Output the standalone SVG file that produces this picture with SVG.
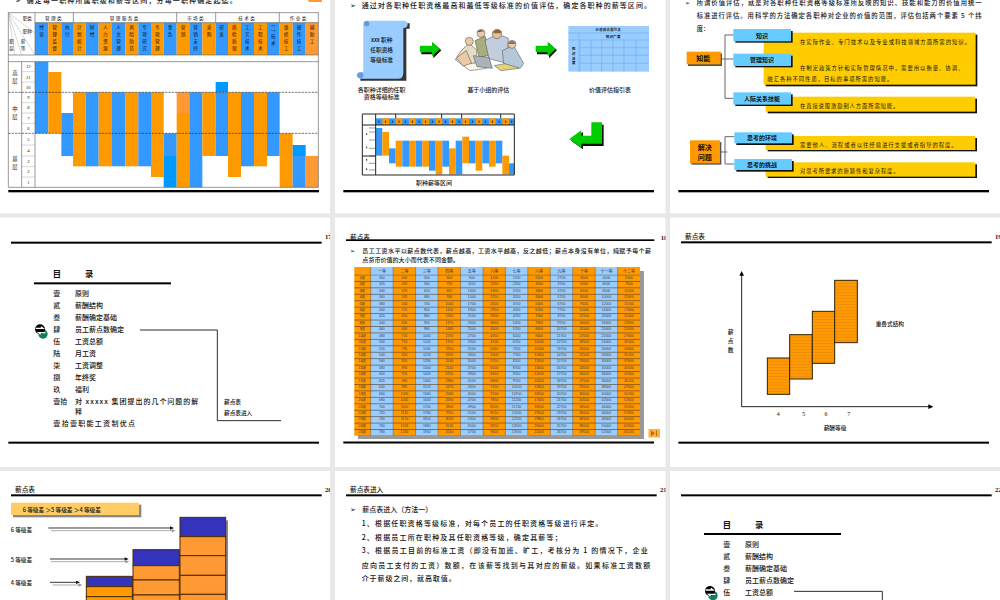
<svg xmlns="http://www.w3.org/2000/svg" width="1000" height="600" viewBox="0 0 1000 600">
<style>
text{font-family:"Noto Sans CJK SC","Liberation Sans",sans-serif;fill:#111;dominant-baseline:central}
.b{font-size:21px;font-weight:500}
.m{font-size:17px;font-weight:500}
.s{font-size:14px}
.cap{font-size:18px;font-weight:500;text-anchor:middle}
.h{font-size:21px;font-weight:700}
.num{font-size:20px;font-family:"Liberation Serif",serif;font-weight:700}
.c{text-anchor:middle}
.v{font-size:14px;writing-mode:vertical-rl;letter-spacing:7px}
.lv{font-size:16px;writing-mode:vertical-rl;letter-spacing:8px}
.gr{font-size:14px;text-anchor:middle;font-family:"Liberation Serif",serif}
.nc{font-size:3.5px;text-anchor:middle;font-family:"Liberation Sans",sans-serif;fill:#444}
.hc{font-size:4px;text-anchor:middle;fill:#333}
.o{fill:#ff9900}
.o2{fill:#ff9933}
.u{fill:#3399ff}
.u2{fill:#0099ff}
.rule{fill:#000}
.lk{fill:none;stroke:#000;stroke-width:2.5}
.gl{fill:none;stroke:#666;stroke-width:3}
.fr{fill:none;stroke:#666;stroke-width:2}
.tn{stroke:#888;stroke-width:1;fill:none}
.sky{fill:#66ccff}
.yl{fill:#ffcc00}
.sh{fill:#111}
.g{fill:#00cc00}
.cl{stroke:#444;stroke-width:1.5}
.pt{font-size:16px}
</style>
<defs>
<pattern id="rows" patternUnits="userSpaceOnUse" x="0" y="274.5" width="10" height="6.44">
<rect y="0" width="10" height="0.55" fill="#553311"/>
</pattern>
<pattern id="stripe" patternUnits="userSpaceOnUse" width="10" height="9">
<rect width="10" height="9" fill="#ff9900"/>
<rect y="6" width="10" height="2" fill="#e88a10"/>
</pattern>
<g id="mark">
<circle cx="129" cy="372" r="14" fill="#0f7f5f"/>
<circle cx="120" cy="358" r="15" fill="#000"/>
<path d="M107 355h22l-6-5M136 368h-20l6 5" fill="none" stroke="#fff" stroke-width="4"/>
</g>
<g id="arrow">
<path d="M4 14H40V2L64 24 40 48V36H4Z" class="sh"/>
<path d="M0 10H36V-2L60 20 36 42V30H0Z" class="g"/>
</g>
</defs>

<rect width="1000" height="600" fill="#fff"/>

<!-- Page 16: job-family grade ranges -->
<g id="page16" transform="scale(.33333)">
<text class="b" x="45" y="-1">➢</text>
<text class="b" x="80" y="-1" textLength="630" lengthAdjust="spacing">确定每一职种所属职级和薪等区间，分每一职种确定起迄。</text>
<rect class="o2" x="925" y="-4" width="41" height="10"/>
<rect x="25" y="38" width="930" height="524" fill="#fff"/>
<g id="bars16">
<rect class="u" x="105" y="68" width="40" height="97"/><rect class="o" x="145" y="68" width="39" height="97"/><rect class="u" x="184" y="68" width="35" height="97"/>
<rect class="o" x="219" y="68" width="38" height="97"/><rect class="u" x="257" y="68" width="39" height="97"/><rect class="o" x="296" y="68" width="40" height="97"/><rect class="u" x="336" y="68" width="40" height="97"/><rect class="o" x="376" y="68" width="39" height="97"/><rect class="u" x="415" y="68" width="38" height="97"/><rect class="o" x="453" y="68" width="38" height="97"/><rect class="u" x="491" y="68" width="39" height="97"/>
<rect class="o" x="530" y="68" width="38" height="97"/><rect class="u" x="568" y="68" width="39" height="97"/><rect class="o" x="607" y="68" width="40" height="97"/>
<rect class="u" x="647" y="68" width="37" height="97"/><rect class="o" x="684" y="68" width="39" height="97"/><rect class="u" x="723" y="68" width="39" height="97"/><rect class="o" x="762" y="68" width="39" height="97"/><rect class="u" x="801" y="68" width="38" height="97"/>
<rect class="o" x="839" y="68" width="39" height="97"/><rect class="u" x="878" y="68" width="39" height="97"/><rect class="o2" x="917" y="68" width="38" height="97"/>

<rect class="u" x="105" y="185" width="40" height="215"/>
<rect class="o" x="145" y="216" width="39" height="184"/>
<rect class="u" x="184" y="339" width="35" height="129"/>
<rect class="o" x="219" y="277" width="38" height="222"/>
<rect class="u" x="257" y="277" width="39" height="222"/>
<rect class="o" x="296" y="277" width="40" height="222"/>
<rect class="u" x="336" y="277" width="40" height="222"/>
<rect class="o" x="376" y="277" width="39" height="222"/>
<rect class="u" x="415" y="277" width="38" height="222"/>
<rect class="o" x="453" y="277" width="38" height="254"/>
<rect class="u" x="491" y="400" width="39" height="68"/><rect class="u2" x="491" y="468" width="39" height="94"/>
<rect class="o2" x="530" y="277" width="38" height="62"/><rect class="o" x="530" y="339" width="38" height="223"/>
<rect class="u" x="568" y="277" width="39" height="285"/>
<rect class="o" x="607" y="277" width="40" height="191"/>
<rect class="u2" x="647" y="246" width="37" height="31"/><rect class="u" x="647" y="277" width="37" height="191"/>
<rect class="o" x="684" y="277" width="39" height="254"/>
<rect class="u" x="723" y="277" width="39" height="222"/>
<rect class="o" x="762" y="277" width="39" height="222"/>
<rect class="u" x="801" y="277" width="38" height="191"/>
<rect class="o" x="839" y="400" width="39" height="162"/>
<rect class="u2" x="878" y="435" width="39" height="33"/><rect class="u" x="878" y="468" width="39" height="94"/>
<rect class="o2" x="917" y="468" width="38" height="94"/>
</g>
<path class="fr" d="M25 38H955V562H25ZM105 38V165M25 165H955M25 185H955M65 185V562M105 185V562M105 68H955M220 38V68M530 38V68M647 38V68M838 38V68"/>
<path class="tn" d="M65 215H105M65 246H105M65 308H105M65 339H105M65 370H105M65 435H105M65 468H105M65 500H105M65 531H105M25 38L105 165M25 38L65 165M25 38L45 165M25 38L105 100"/>
<path d="M25 277H955M25 400H955" stroke="#333" stroke-width="2" stroke-dasharray="7 3" fill="none"/>
<text class="s" x="68" y="53">职类</text>
<text class="s" x="68" y="92">职种</text>
<text class="s" x="28" y="124">职</text><text class="s" x="28" y="143">层</text>
<text class="s" x="62" y="124">薪</text><text class="s" x="62" y="143">等</text>
<g>
<text class="s c" x="162" y="53" letter-spacing="4">管理类</text>
<text class="s c" x="374" y="53" letter-spacing="4">管理服务类</text>
<text class="s c" x="588" y="53" letter-spacing="4">市场类</text>
<text class="s c" x="742" y="53" letter-spacing="4">技术类</text>
<text class="s c" x="896" y="53" letter-spacing="4">作业类</text>
</g>
<g>
<text class="v" x="125" y="76">经营</text><text class="v" x="164" y="76">管理监督</text><text class="v" x="202" y="76">执行</text>
<text class="v" x="238" y="76">计划统计</text><text class="v" x="276" y="76">财经</text><text class="v" x="316" y="76">人力资源</text><text class="v" x="356" y="76">人文管理</text><text class="v" x="395" y="76">风险防范</text><text class="v" x="434" y="76">专项研究</text><text class="v" x="472" y="76">专项管理</text><text class="v" x="510" y="76">事务</text>
<text class="v" x="549" y="76">营销</text><text class="v" x="587" y="76">营销支持</text><text class="v" x="627" y="76">采购</text>
<text class="v" x="665" y="76">研发</text><text class="v" x="703" y="76">质检质保</text><text class="v" x="742" y="76">工艺技术</text><text class="v" x="781" y="76">工程技术</text><text class="v" x="820" y="76">IT技术</text>
<text class="v" x="858" y="76">维修技工</text><text class="v" x="897" y="76">操作技工</text><text class="v" x="936" y="76">辅助工</text>
</g>
<g>
<text class="gr" x="85" y="200">12</text><text class="gr" x="85" y="232">11</text><text class="gr" x="85" y="263">10</text><text class="gr" x="85" y="293">9</text><text class="gr" x="85" y="324">8</text><text class="gr" x="85" y="355">7</text><text class="gr" x="85" y="386">6</text><text class="gr" x="85" y="418">5</text><text class="gr" x="85" y="452">4</text><text class="gr" x="85" y="485">3</text><text class="gr" x="85" y="516">2</text><text class="gr" x="85" y="547">1</text>
</g>
<text class="lv" x="45" y="210">高层</text>
<text class="lv" x="45" y="318">中层</text>
<text class="lv" x="45" y="470">基层</text>
<rect class="rule" x="25" y="570" width="932" height="7"/>
</g>

<!-- Page 17: evaluation process -->
<g id="page17" transform="translate(335 0) scale(.33333)">
<text class="b" x="45" y="14">➢</text>
<text class="b" x="80" y="14" textLength="868" lengthAdjust="spacing">通过对各职种任职资格最高和最低等级标准的价值评估，确定各职种的薪等区间。</text>
<g id="scroll">
<path d="M92 70H224V86H214V242H76V232H92Z" class="sh" opacity=".85"/>
<path d="M85 72Q85 62 95 62H205Q218 62 218 72Q218 84 205 84V218Q205 236 190 236H78Q65 236 65 226Q65 216 85 216Z" fill="#99ccff"/>
<circle cx="95" cy="71" r="8" fill="#6699dd"/>
<circle cx="76" cy="226" r="9" fill="#6699dd"/>
<text class="m c" x="140" y="120">xxx 职种</text>
<text class="m c" x="140" y="149">任职资格</text>
<text class="m c" x="140" y="178">等级标准</text>
</g>
<text class="cap" x="140" y="268">各职种详细的任职</text>
<text class="cap" x="140" y="291">资格等级标准</text>
<use href="#arrow" x="255" y="127"/>
<use href="#arrow" x="602" y="127"/>
<g id="team">
<path class="cl" d="M360 178L418 168 455 205 405 212Z" fill="#faf6e6"/>
<path class="cl" d="M478 197L528 187 552 205 498 212Z" fill="#e6d27a"/>
<path class="cl" d="M365 172Q382 142 404 132L426 150 420 190 385 188Z" fill="#e6dcc4"/>
<path class="cl" d="M420 122L450 108 468 165 432 172Z" fill="#a8ad7c"/>
<path class="cl" d="M450 122Q488 95 520 115L516 190 462 176Z" fill="#c2cedd"/>
<path class="cl" d="M502 152L535 136 566 190 556 205 506 190Z" fill="#b5c8d8"/>
<circle class="cl" cx="403" cy="124" r="12" fill="#eccaa8"/>
<circle class="cl" cx="438" cy="100" r="12" fill="#eccaa8"/>
<circle class="cl" cx="486" cy="102" r="14" fill="#e4c09c"/>
<circle class="cl" cx="531" cy="133" r="12" fill="#eccaa8"/>
<path d="M473 96Q486 82 500 94L497 100 478 100Z" fill="#8a6a3a"/>
<path d="M426 97Q438 84 450 97L445 94 431 96Z" fill="#5a4020"/>
<path d="M520 128Q531 118 542 128L540 132 522 132Z" fill="#777"/>
<path class="cl" d="M415 167L462 172 472 205 426 200Z" fill="#aab2ba"/>
<path class="cl" d="M364 174L394 152 410 190 384 198Z" fill="#eccaa8"/>
</g>
<text class="cap" x="460" y="268">基于小组的评估</text>
<g id="grid">
<rect x="700" y="78" width="242" height="137" fill="#99ccff"/>
<path d="M700 99H942M700 120H942M735 143H942M735 166H942M735 190H942M735 120V215M768 120V215M800 120V215M834 120V215M867 120V215M903 120V215M732 99V215" stroke="#66b3ee" stroke-width="2" fill="none"/>
<text class="c" x="820" y="88" style="font-size:10px;font-weight:700" letter-spacing="1">价值评估指引表</text>
<text class="c" x="835" y="109" style="font-size:10px;font-weight:700" letter-spacing="1">知识广度</text>
<text x="716" y="142" style="font-size:10px;font-weight:700;letter-spacing:4px;writing-mode:vertical-rl">知识深度</text>
</g>
<text class="cap" x="825" y="268">价值评估指引表</text>
<g id="mini">
<rect x="82" y="342" width="456" height="183" fill="#fff"/>
<rect class="u" x="122" y="355" width="416" height="20"/>
<path class="o" d="M142 355h20v20h-20zM182 355h20v20h-20zM222 355h20v20h-20zM262 355h20v20h-20zM302 355h20v20h-20zM342 355h20v20h-20zM382 355h20v20h-20zM422 355h20v20h-20zM462 355h20v20h-20zM502 355h20v20h-20z"/>
<rect class="u" x="122" y="384" width="20" height="83"/>
<rect class="o" x="142" y="396" width="20" height="71"/>
<rect class="u" x="162" y="445" width="20" height="45"/>
<rect class="o" x="182" y="422" width="20" height="78"/>
<rect class="u" x="202" y="422" width="20" height="78"/>
<rect class="o" x="222" y="422" width="20" height="78"/>
<rect class="u" x="242" y="422" width="20" height="78"/>
<rect class="o" x="262" y="422" width="20" height="78"/>
<rect class="u" x="282" y="422" width="20" height="90"/>
<rect class="o" x="302" y="422" width="20" height="101"/>
<rect class="u" x="322" y="422" width="20" height="78"/>
<rect class="o" x="342" y="445" width="20" height="78"/>
<rect class="u" x="362" y="422" width="20" height="101"/>
<rect class="o" x="382" y="410" width="20" height="80"/>
<rect class="u" x="402" y="422" width="20" height="68"/>
<rect class="o" x="422" y="422" width="20" height="90"/>
<rect class="u" x="442" y="422" width="20" height="68"/>
<rect class="o" x="462" y="422" width="20" height="78"/>
<rect class="u" x="482" y="422" width="20" height="68"/>
<rect class="o" x="502" y="467" width="20" height="56"/>
<rect class="u" x="522" y="490" width="16" height="33"/>
<path d="M132 362v6M152 362v6M172 362v6M192 362v6M212 362v6M232 362v6M252 362v6M272 362v6M292 362v6M312 362v6M332 362v6M352 362v6M372 362v6M392 362v6M412 362v6M432 362v6M452 362v6M472 362v6M492 362v6M512 362v6M530 362v6M95 400v5M95 440v5M95 477v5M95 505v5" stroke="#222" stroke-width="3" fill="none"/>
<path d="M82 342H538V525H82ZM122 342V525M82 375H538M82 468H122M182 342V355M320 342V355M380 342V355M497 342V355" fill="none" stroke="#222" stroke-width="3"/>
<path d="M102 384H122M102 396H122M102 420H122M102 445H122M102 468H122M102 490H122M102 510H122" stroke="#333" stroke-width="1.5" fill="none"/>
</g>
<text class="cap" x="297" y="548">职种薪等区间</text>
<g id="turn">
<path d="M708 422L744 396V412H774V374H806V438H744V448Z" class="sh"/>
<path d="M703 417L739 391V407H769V367H801V431H739V443Z" class="g"/>
</g>
<rect class="rule" x="25" y="570" width="932" height="7"/>
</g>

<!-- Page 18: value evaluation factors -->
<g id="page18" transform="translate(670 0) scale(.33333)">
<text class="b" x="45" y="8" style="font-size:18px">➢</text>
<text class="b" x="80" y="8" textLength="855" lengthAdjust="spacing" style="font-size:19px">所谓价值评估，就是对各职种任职资格等级标准所反映的知识、技能和能力的价值用统一</text>
<text class="b" x="80" y="48" textLength="855" lengthAdjust="spacing" style="font-size:19px">标准进行评估。用科学的方法确定各职种对企业的价值的范围，评估包括两个要素 5 个纬</text>
<text class="b" x="80" y="85" style="font-size:19px">度：</text>
<g id="yellowPanels">
<rect class="sh" x="287" y="104" width="635" height="155"/><rect class="yl" x="281" y="98" width="636" height="156"/>
<rect class="sh" x="293" y="296" width="628" height="44"/><rect class="yl" x="287" y="290" width="629" height="45"/>
<rect class="sh" x="293" y="414" width="628" height="40"/><rect class="yl" x="287" y="408" width="629" height="42"/>
<rect class="sh" x="293" y="493" width="628" height="41"/><rect class="yl" x="287" y="487" width="629" height="43"/>
</g>
<path class="gl" d="M152 177H165M165 105V295M165 105H190M165 177H190M165 295H190"/>
<path class="gl" d="M150 456H172M165 410V492M165 410H193M165 492H193"/>
<g id="knowledge"><rect class="sh" x="196" y="93" width="172" height="35"/><rect class="sky" x="190" y="87" width="173" height="37"/><text class="h c" x="276" y="106" style="font-size:18px">知识</text></g>
<g id="mgmt"><rect class="sh" x="196" y="167" width="172" height="35"/><rect class="sky" x="190" y="161" width="173" height="37"/><text class="h c" x="276" y="180" style="font-size:18px">管理知识</text></g>
<g id="people"><rect class="sh" x="196" y="283" width="172" height="35"/><rect class="sky" x="190" y="277" width="173" height="37"/><text class="h c" x="276" y="296" style="font-size:18px">人际关系技能</text></g>
<g id="context"><rect class="sh" x="199" y="403" width="172" height="32"/><rect class="sky" x="193" y="397" width="173" height="33"/><text class="h c" x="276" y="412" style="font-size:18px">思考的环境</text></g>
<g id="challenge"><rect class="sh" x="199" y="483" width="172" height="32"/><rect class="sky" x="193" y="477" width="173" height="33"/><text class="h c" x="276" y="494" style="font-size:18px">思考的挑战</text></g>
<g id="skill"><rect x="54" y="160" width="102" height="38" fill="#555"/><rect class="o" x="50" y="155" width="102" height="38"/><text class="h c" x="100" y="175">知能</text></g>
<g id="problem"><rect x="64" y="426" width="90" height="68" fill="#555"/><rect class="o" x="60" y="421" width="90" height="69"/><text class="h c" x="104" y="442">解决</text><text class="h c" x="104" y="472">问题</text></g>
<g>
<text class="pt" x="390" y="127" textLength="510" lengthAdjust="spacing">在实际作业、专门技术以及专业或科技领域方面所需的知识。</text>
<text class="pt" x="390" y="204" textLength="490" lengthAdjust="spacing">在制定政策方针和实际管理情况中，需要用以衡量、协调、</text>
<text class="pt" x="292" y="237" textLength="375" lengthAdjust="spacing">融汇各种不同性质，目标的事项所需的知能。</text>
<text class="pt" x="390" y="318" textLength="295" lengthAdjust="spacing">在直接说服激励别人方面所需知能。</text>
<text class="pt" x="390" y="436" textLength="470" lengthAdjust="spacing">需要他人、流程或者以往经验进行支援或者指导的程度。</text>
<text class="pt" x="390" y="514" textLength="296" lengthAdjust="spacing">对思考所要求的新颖性和复杂程度。</text>
</g>
<rect class="rule" x="25" y="570" width="932" height="7"/>
</g>

<!-- Page 19: contents, salary point table chapter -->
<g id="page19" transform="translate(0 210) scale(.33333)">
<rect class="rule" x="33" y="95" width="932" height="6"/>
<text class="num" x="975" y="81">17</text>
<text class="h" x="158" y="190" style="font-size:25px">目</text><text class="h" x="255" y="190" style="font-size:25px">录</text>
<rect class="rule" x="102" y="217" width="411" height="6"/>
<use href="#mark"/>
<g>
<text class="b" x="160" y="250">壹</text><text class="b" x="225" y="250">原则</text>
<text class="b" x="160" y="286">贰</text><text class="b" x="225" y="286">薪酬结构</text>
<text class="b" x="160" y="322">叁</text><text class="b" x="225" y="322">薪酬确定基础</text>
<text class="b" x="160" y="358">肆</text><text class="b" x="225" y="358">员工薪点数确定</text>
<text class="b" x="160" y="394">伍</text><text class="b" x="225" y="394">工资总额</text>
<text class="b" x="160" y="430">陆</text><text class="b" x="225" y="430">月工资</text>
<text class="b" x="160" y="466">柒</text><text class="b" x="225" y="466">工资调整</text>
<text class="b" x="160" y="502">捌</text><text class="b" x="225" y="502">年终奖</text>
<text class="b" x="160" y="537">玖</text><text class="b" x="225" y="537">福利</text>
<text class="b" x="160" y="573">壹拾</text><text class="b" x="225" y="573" textLength="370" lengthAdjust="spacing">对 xxxxx 集团提出的几个问题的解</text>
<text class="b" x="225" y="602">释</text>
<text class="b" x="160" y="638" textLength="245" lengthAdjust="spacing">壹拾壹职能工资制优点</text>
</g>
<path class="lk" d="M420 360H652V632H843" stroke-width="3"/>
<text class="m" x="672" y="575">薪点表</text>
<text class="m" x="672" y="607">薪点表进入</text>
<rect class="rule" x="25" y="695" width="932" height="6"/>
</g>

<!-- Page 20: salary point table -->
<g id="page20">
<g transform="translate(340 225) scale(.33333)">
<text class="h" x="30" y="35" style="font-size:20px;font-weight:500">薪点表</text>
<rect class="rule" x="18" y="43" width="925" height="5"/>
<text class="num" x="962" y="37">18</text>
<text class="m" x="30" y="77">➢</text>
<text class="m" x="67" y="77" style="font-size:18px" textLength="866" lengthAdjust="spacing">员工工资水平以薪点数代表，薪点越高，工资水平越高，反之越低；薪点本身没有单位，纯赋予每个薪</text>
<text class="m" x="67" y="103" style="font-size:18px" textLength="290" lengthAdjust="spacing">点货币价值的大小而代表不同金额。</text>
</g>
<rect x="358" y="271" width="286" height="168" fill="#999"/>
<rect class="o" x="354.3" y="267" width="285.7" height="168.5"/>
<g fill="#99ccff">
<rect x="370.7" y="267" width="22.45" height="168.5"/><rect x="415.6" y="267" width="22.45" height="168.5"/><rect x="460.5" y="267" width="22.45" height="168.5"/><rect x="505.4" y="267" width="22.45" height="168.5"/><rect x="550.3" y="267" width="22.45" height="168.5"/><rect x="595.2" y="267" width="22.45" height="168.5"/>
</g>
<rect x="354.3" y="274.5" width="285.7" height="161" fill="url(#rows)"/>
<path d="M370.7 267V435.5M393.1 267V435.5M415.6 267V435.5M438 267V435.5M460.5 267V435.5M483 267V435.5M505.4 267V435.5M527.8 267V435.5M550.3 267V435.5M572.7 267V435.5M595.2 267V435.5M617.6 267V435.5" stroke="#664422" stroke-width=".4" fill="none"/>
<text class="hc" y="270.7"><tspan x="381.9">一等</tspan><tspan x="404.4">二等</tspan><tspan x="426.8">三等</tspan><tspan x="449.3">四等</tspan><tspan x="471.7">五等</tspan><tspan x="494.2">六等</tspan><tspan x="516.6">七等</tspan><tspan x="539.1">八等</tspan><tspan x="561.5">九等</tspan><tspan x="584">十等</tspan><tspan x="606.4">十一等</tspan><tspan x="628.9">十二等</tspan></text>
<g id="cells">
<text class="nc" y="277.7"><tspan x="362.5">1级</tspan><tspan x="381.9">300</tspan><tspan x="404.4">400</tspan><tspan x="426.8">500</tspan><tspan x="449.3">600</tspan><tspan x="471.7">900</tspan><tspan x="494.2">1200</tspan><tspan x="516.6">1700</tspan><tspan x="539.1">2200</tspan><tspan x="561.5">2700</tspan><tspan x="584">3500</tspan><tspan x="606.4">4000</tspan><tspan x="628.9">5100</tspan></text>
<text class="nc" y="284.1"><tspan x="362.5">2级</tspan><tspan x="381.9">320</tspan><tspan x="404.4">435</tspan><tspan x="426.8">560</tspan><tspan x="449.3">710</tspan><tspan x="471.7">1100</tspan><tspan x="494.2">1550</tspan><tspan x="516.6">2200</tspan><tspan x="539.1">3000</tspan><tspan x="561.5">3700</tspan><tspan x="584">5000</tspan><tspan x="606.4">6000</tspan><tspan x="628.9">7600</tspan></text>
<text class="nc" y="290.6"><tspan x="362.5">3级</tspan><tspan x="381.9">340</tspan><tspan x="404.4">470</tspan><tspan x="426.8">620</tspan><tspan x="449.3">820</tspan><tspan x="471.7">1300</tspan><tspan x="494.2">1900</tspan><tspan x="516.6">2700</tspan><tspan x="539.1">3800</tspan><tspan x="561.5">4700</tspan><tspan x="584">6500</tspan><tspan x="606.4">8000</tspan><tspan x="628.9">10100</tspan></text>
<text class="nc" y="297"><tspan x="362.5">4级</tspan><tspan x="381.9">360</tspan><tspan x="404.4">505</tspan><tspan x="426.8">680</tspan><tspan x="449.3">930</tspan><tspan x="471.7">1500</tspan><tspan x="494.2">2250</tspan><tspan x="516.6">3200</tspan><tspan x="539.1">4600</tspan><tspan x="561.5">5700</tspan><tspan x="584">8000</tspan><tspan x="606.4">10000</tspan><tspan x="628.9">12600</tspan></text>
<text class="nc" y="303.5"><tspan x="362.5">5级</tspan><tspan x="381.9">380</tspan><tspan x="404.4">540</tspan><tspan x="426.8">740</tspan><tspan x="449.3">1040</tspan><tspan x="471.7">1700</tspan><tspan x="494.2">2600</tspan><tspan x="516.6">3700</tspan><tspan x="539.1">5400</tspan><tspan x="561.5">6700</tspan><tspan x="584">9500</tspan><tspan x="606.4">12000</tspan><tspan x="628.9">15100</tspan></text>
<text class="nc" y="309.9"><tspan x="362.5">6级</tspan><tspan x="381.9">400</tspan><tspan x="404.4">575</tspan><tspan x="426.8">800</tspan><tspan x="449.3">1150</tspan><tspan x="471.7">1900</tspan><tspan x="494.2">2950</tspan><tspan x="516.6">4200</tspan><tspan x="539.1">6200</tspan><tspan x="561.5">7700</tspan><tspan x="584">11000</tspan><tspan x="606.4">14000</tspan><tspan x="628.9">17600</tspan></text>
<text class="nc" y="316.3"><tspan x="362.5">7级</tspan><tspan x="381.9">420</tspan><tspan x="404.4">610</tspan><tspan x="426.8">860</tspan><tspan x="449.3">1260</tspan><tspan x="471.7">2100</tspan><tspan x="494.2">3300</tspan><tspan x="516.6">4700</tspan><tspan x="539.1">7000</tspan><tspan x="561.5">8700</tspan><tspan x="584">12500</tspan><tspan x="606.4">16000</tspan><tspan x="628.9">20100</tspan></text>
<text class="nc" y="322.8"><tspan x="362.5">8级</tspan><tspan x="381.9">440</tspan><tspan x="404.4">645</tspan><tspan x="426.8">920</tspan><tspan x="449.3">1370</tspan><tspan x="471.7">2300</tspan><tspan x="494.2">3650</tspan><tspan x="516.6">5200</tspan><tspan x="539.1">7800</tspan><tspan x="561.5">9700</tspan><tspan x="584">14000</tspan><tspan x="606.4">18000</tspan><tspan x="628.9">22600</tspan></text>
<text class="nc" y="329.2"><tspan x="362.5">9级</tspan><tspan x="381.9">460</tspan><tspan x="404.4">680</tspan><tspan x="426.8">980</tspan><tspan x="449.3">1480</tspan><tspan x="471.7">2500</tspan><tspan x="494.2">4000</tspan><tspan x="516.6">5700</tspan><tspan x="539.1">8600</tspan><tspan x="561.5">10700</tspan><tspan x="584">15500</tspan><tspan x="606.4">20000</tspan><tspan x="628.9">25100</tspan></text>
<text class="nc" y="335.7"><tspan x="362.5">10级</tspan><tspan x="381.9">480</tspan><tspan x="404.4">715</tspan><tspan x="426.8">1040</tspan><tspan x="449.3">1590</tspan><tspan x="471.7">2700</tspan><tspan x="494.2">4350</tspan><tspan x="516.6">6200</tspan><tspan x="539.1">9400</tspan><tspan x="561.5">11700</tspan><tspan x="584">17000</tspan><tspan x="606.4">22000</tspan><tspan x="628.9">27600</tspan></text>
<text class="nc" y="342.1"><tspan x="362.5">11级</tspan><tspan x="381.9">500</tspan><tspan x="404.4">750</tspan><tspan x="426.8">1100</tspan><tspan x="449.3">1700</tspan><tspan x="471.7">2900</tspan><tspan x="494.2">4700</tspan><tspan x="516.6">6700</tspan><tspan x="539.1">10200</tspan><tspan x="561.5">12700</tspan><tspan x="584">18500</tspan><tspan x="606.4">24000</tspan><tspan x="628.9">30100</tspan></text>
<text class="nc" y="348.5"><tspan x="362.5">12级</tspan><tspan x="381.9">520</tspan><tspan x="404.4">785</tspan><tspan x="426.8">1160</tspan><tspan x="449.3">1810</tspan><tspan x="471.7">3100</tspan><tspan x="494.2">5050</tspan><tspan x="516.6">7200</tspan><tspan x="539.1">11000</tspan><tspan x="561.5">13700</tspan><tspan x="584">20000</tspan><tspan x="606.4">26000</tspan><tspan x="628.9">32600</tspan></text>
<text class="nc" y="355"><tspan x="362.5">13级</tspan><tspan x="381.9">540</tspan><tspan x="404.4">820</tspan><tspan x="426.8">1220</tspan><tspan x="449.3">1920</tspan><tspan x="471.7">3300</tspan><tspan x="494.2">5400</tspan><tspan x="516.6">7700</tspan><tspan x="539.1">11800</tspan><tspan x="561.5">14700</tspan><tspan x="584">21500</tspan><tspan x="606.4">28000</tspan><tspan x="628.9">35100</tspan></text>
<text class="nc" y="361.4"><tspan x="362.5">14级</tspan><tspan x="381.9">560</tspan><tspan x="404.4">855</tspan><tspan x="426.8">1280</tspan><tspan x="449.3">2030</tspan><tspan x="471.7">3500</tspan><tspan x="494.2">5750</tspan><tspan x="516.6">8200</tspan><tspan x="539.1">12600</tspan><tspan x="561.5">15700</tspan><tspan x="584">23000</tspan><tspan x="606.4">30000</tspan><tspan x="628.9">37600</tspan></text>
<text class="nc" y="367.9"><tspan x="362.5">15级</tspan><tspan x="381.9">580</tspan><tspan x="404.4">890</tspan><tspan x="426.8">1340</tspan><tspan x="449.3">2140</tspan><tspan x="471.7">3700</tspan><tspan x="494.2">6100</tspan><tspan x="516.6">8700</tspan><tspan x="539.1">13400</tspan><tspan x="561.5">16700</tspan><tspan x="584">24500</tspan><tspan x="606.4">32000</tspan><tspan x="628.9">40100</tspan></text>
<text class="nc" y="374.3"><tspan x="362.5">16级</tspan><tspan x="381.9">600</tspan><tspan x="404.4">925</tspan><tspan x="426.8">1400</tspan><tspan x="449.3">2250</tspan><tspan x="471.7">3900</tspan><tspan x="494.2">6450</tspan><tspan x="516.6">9200</tspan><tspan x="539.1">14200</tspan><tspan x="561.5">17700</tspan><tspan x="584">26000</tspan><tspan x="606.4">34000</tspan><tspan x="628.9">42600</tspan></text>
<text class="nc" y="380.7"><tspan x="362.5">17级</tspan><tspan x="381.9">620</tspan><tspan x="404.4">960</tspan><tspan x="426.8">1460</tspan><tspan x="449.3">2360</tspan><tspan x="471.7">4100</tspan><tspan x="494.2">6800</tspan><tspan x="516.6">9700</tspan><tspan x="539.1">15000</tspan><tspan x="561.5">18700</tspan><tspan x="584">27500</tspan><tspan x="606.4">36000</tspan><tspan x="628.9">45100</tspan></text>
<text class="nc" y="387.2"><tspan x="362.5">18级</tspan><tspan x="381.9">640</tspan><tspan x="404.4">995</tspan><tspan x="426.8">1520</tspan><tspan x="449.3">2470</tspan><tspan x="471.7">4300</tspan><tspan x="494.2">7150</tspan><tspan x="516.6">10200</tspan><tspan x="539.1">15800</tspan><tspan x="561.5">19700</tspan><tspan x="584">29000</tspan><tspan x="606.4">38000</tspan><tspan x="628.9">47600</tspan></text>
<text class="nc" y="393.6"><tspan x="362.5">19级</tspan><tspan x="381.9">660</tspan><tspan x="404.4">1030</tspan><tspan x="426.8">1580</tspan><tspan x="449.3">2580</tspan><tspan x="471.7">4500</tspan><tspan x="494.2">7500</tspan><tspan x="516.6">10700</tspan><tspan x="539.1">16600</tspan><tspan x="561.5">20700</tspan><tspan x="584">30500</tspan><tspan x="606.4">40000</tspan><tspan x="628.9">50100</tspan></text>
<text class="nc" y="400.1"><tspan x="362.5">20级</tspan><tspan x="381.9">680</tspan><tspan x="404.4">1065</tspan><tspan x="426.8">1640</tspan><tspan x="449.3">2690</tspan><tspan x="471.7">4700</tspan><tspan x="494.2">7850</tspan><tspan x="516.6">11200</tspan><tspan x="539.1">17400</tspan><tspan x="561.5">21700</tspan><tspan x="584">32000</tspan><tspan x="606.4">42000</tspan><tspan x="628.9">52600</tspan></text>
<text class="nc" y="406.5"><tspan x="362.5">21级</tspan><tspan x="381.9">700</tspan><tspan x="404.4">1100</tspan><tspan x="426.8">1700</tspan><tspan x="449.3">2800</tspan><tspan x="471.7">4900</tspan><tspan x="494.2">8200</tspan><tspan x="516.6">11700</tspan><tspan x="539.1">18200</tspan><tspan x="561.5">22700</tspan><tspan x="584">33500</tspan><tspan x="606.4">44000</tspan><tspan x="628.9">55100</tspan></text>
<text class="nc" y="412.9"><tspan x="362.5">22级</tspan><tspan x="381.9">720</tspan><tspan x="404.4">1135</tspan><tspan x="426.8">1760</tspan><tspan x="449.3">2910</tspan><tspan x="471.7">5100</tspan><tspan x="494.2">8550</tspan><tspan x="516.6">12200</tspan><tspan x="539.1">19000</tspan><tspan x="561.5">23700</tspan><tspan x="584">35000</tspan><tspan x="606.4">46000</tspan><tspan x="628.9">57600</tspan></text>
<text class="nc" y="419.4"><tspan x="362.5">23级</tspan><tspan x="381.9">740</tspan><tspan x="404.4">1170</tspan><tspan x="426.8">1820</tspan><tspan x="449.3">3020</tspan><tspan x="471.7">5300</tspan><tspan x="494.2">8900</tspan><tspan x="516.6">12700</tspan><tspan x="539.1">19800</tspan><tspan x="561.5">24700</tspan><tspan x="584">36500</tspan><tspan x="606.4">48000</tspan><tspan x="628.9">60100</tspan></text>
<text class="nc" y="425.8"><tspan x="362.5">24级</tspan><tspan x="381.9">760</tspan><tspan x="404.4">1205</tspan><tspan x="426.8">1880</tspan><tspan x="449.3">3130</tspan><tspan x="471.7">5500</tspan><tspan x="494.2">9250</tspan><tspan x="516.6">13200</tspan><tspan x="539.1">20600</tspan><tspan x="561.5">25700</tspan><tspan x="584">38000</tspan><tspan x="606.4">50000</tspan><tspan x="628.9">62600</tspan></text>
<text class="nc" y="432.3"><tspan x="362.5">25级</tspan><tspan x="381.9">780</tspan><tspan x="404.4">1240</tspan><tspan x="426.8">1940</tspan><tspan x="449.3">3240</tspan><tspan x="471.7">5700</tspan><tspan x="494.2">9600</tspan><tspan x="516.6">13700</tspan><tspan x="539.1">21400</tspan><tspan x="561.5">26700</tspan><tspan x="584">39500</tspan><tspan x="606.4">52000</tspan><tspan x="628.9">65100</tspan></text>
</g>
<rect x="648.5" y="429" width="11.5" height="8.5" fill="#ffb040"/>
<path d="M651 430.5L655 433.2 651 436ZM656 430.5H657V436H656Z" fill="#b87000"/>
<rect class="rule" x="343.3" y="441.5" width="310.7" height="2"/>
</g>

<!-- Page 21: overlapping point ranges -->
<g id="page21" transform="translate(670 215) scale(.33333)">
<text class="h" x="45" y="63" style="font-size:20px;font-weight:500">薪点表</text>
<rect class="rule" x="33" y="79" width="932" height="6"/>
<text class="num" x="975" y="66">19</text>
<g stroke="#332200" stroke-width="3" fill="url(#stripe)">
<rect x="292" y="429" width="67" height="109"/>
<rect x="359" y="359" width="68" height="133"/>
<rect x="427" y="289" width="67" height="156"/>
<rect x="494" y="196" width="68" height="187"/>
</g>
<path d="M215 180V575H778" fill="none" stroke="#222" stroke-width="3"/>
<path d="M215 168L222 182H208ZM790 575L775 568V582Z" fill="#000"/>
<text class="num c" x="325" y="597" style="font-size:18px;font-weight:400">4</text>
<text class="num c" x="401" y="597" style="font-size:18px;font-weight:400">5</text>
<text class="num c" x="468" y="597" style="font-size:18px;font-weight:400">6</text>
<text class="num c" x="536" y="597" style="font-size:18px;font-weight:400">7</text>
<text class="m c" x="495" y="637">薪酬等级</text>
<text class="m c" x="182" y="350">薪</text>
<text class="m c" x="182" y="378">点</text>
<text class="m c" x="182" y="405">数</text>
<text class="m" x="617" y="325">重叠式结构</text>
<rect class="rule" x="25" y="680" width="932" height="6"/>
</g>

<!-- Page 22: grade differences -->
<g id="page22" transform="translate(0 465) scale(.33333)">
<text class="h" x="45" y="72" style="font-size:20px;font-weight:500">薪点表</text>
<rect class="rule" x="33" y="88" width="932" height="6"/>
<text class="num" x="975" y="75">20</text>
<rect x="39" y="119" width="385" height="38" fill="#888"/>
<rect x="33" y="113" width="384" height="37" fill="#ffcc66"/>
<text class="m" x="68" y="133">6 等级差  ＞5 等级差  ＞4 等级差</text>
<text class="m" x="32" y="193">6 等级差</text>
<text class="m" x="32" y="284">5 等级差</text>
<text class="m" x="32" y="352">4 等级差</text>
<g stroke-width="2.5" fill="none">
<path stroke="#999" d="M153 197H522M153 290H382M158 360H242"/>
<path stroke="#111" d="M145 189H516M150 282H380M150 352H236"/>
</g>
<path d="M522 189L510 184V194ZM386 282L374 277V287ZM240 352L228 347V357Z" fill="#111"/>
<path d="M527 197L515 192V202ZM388 290L376 285V295ZM247 360L235 355V365Z" fill="#999"/>
<rect x="677" y="166" width="7" height="240" fill="#888"/>
<g stroke="#4a2a00" stroke-width="3">
<rect x="540" y="157" width="137" height="58" fill="#3333bb"/>
<rect x="540" y="215" width="137" height="57" fill="#ff9933"/>
<rect x="540" y="272" width="137" height="59" fill="#ff9933"/>
<rect x="540" y="331" width="137" height="57" fill="#ff9933"/>
<rect x="540" y="388" width="137" height="30" fill="#ff9933"/>
<rect x="399" y="254" width="139" height="48" fill="#3333bb"/>
<rect x="399" y="302" width="139" height="43" fill="#ff9933"/>
<rect x="399" y="345" width="139" height="45" fill="#ff9933"/>
<rect x="399" y="390" width="139" height="30" fill="#ff9933"/>
<rect x="259" y="334" width="138" height="31" fill="#3333bb"/>
<rect x="259" y="365" width="138" height="30" fill="#ff9900"/>
<rect x="259" y="395" width="138" height="30" fill="#ff9900"/>
</g>
</g>

<!-- Page 23: entry method -->
<g id="page23" transform="translate(335 465) scale(.33333)">
<text class="h" x="45" y="72" style="font-size:20px;font-weight:500">薪点表进入</text>
<rect class="rule" x="33" y="88" width="932" height="6"/>
<text class="num" x="975" y="75">21</text>
<text class="b" x="45" y="131">➢</text>
<text class="b" x="82" y="131">薪点表进入（方法一）</text>
<text class="b" x="80" y="175" textLength="722" lengthAdjust="spacing">1、根据任职资格等级标准，对每个员工的任职资格等级进行评定。</text>
<text class="b" x="80" y="215" textLength="600" lengthAdjust="spacing">2、根据员工所在职种及其任职资格等级，确定其薪等；</text>
<text class="b" x="80" y="255" textLength="858" lengthAdjust="spacing">3、根据员工目前的标准工资（即没有加班、旷工，考核分为 1 的情况下，企业</text>
<text class="b" x="80" y="300" textLength="866" lengthAdjust="spacing">应向员工支付的工资）数额，在该薪等找到与其对应的薪级。如果标准工资数额</text>
<text class="b" x="80" y="340" textLength="282" lengthAdjust="spacing">介于薪级之间，就高取值。</text>
</g>

<!-- Page 24: contents, wage total chapter -->
<g id="page24" transform="translate(670 465) scale(.33333)">
<rect class="rule" x="33" y="88" width="932" height="6"/>
<text class="num" x="975" y="75">22</text>
<text class="h" x="158" y="177" style="font-size:25px">目</text><text class="h" x="255" y="177" style="font-size:25px">录</text>
<rect class="rule" x="102" y="204" width="411" height="6"/>
<use href="#mark" y="20"/>
<text class="b" x="160" y="237">壹</text><text class="b" x="225" y="237">原则</text>
<text class="b" x="160" y="273">贰</text><text class="b" x="225" y="273">薪酬结构</text>
<text class="b" x="160" y="308">叁</text><text class="b" x="225" y="308">薪酬确定基础</text>
<text class="b" x="160" y="344">肆</text><text class="b" x="225" y="344">员工薪点数确定</text>
<text class="b" x="160" y="380">伍</text><text class="b" x="225" y="380">工资总额</text>
<text class="b" x="160" y="416">陆</text><text class="b" x="225" y="416">月工资</text>
<path class="lk" d="M372 379H637V440"/>
</g>

<!-- Page gutters -->
<g id="gutters" fill="#e8e8e8">
<rect x="330" y="0" width="5" height="600"/>
<rect x="665.5" y="0" width="4.5" height="600"/>
<rect x="0" y="213.3" width="1000" height="4.2"/>
<rect x="0" y="467" width="1000" height="4"/>
</g>
</svg>
